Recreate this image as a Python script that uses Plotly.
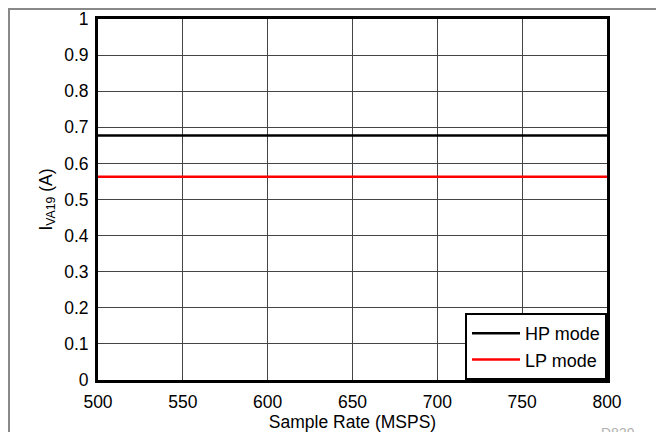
import plotly.graph_objects as go

sample_rate = [500, 800]
hp_mode = [0.677, 0.677]
lp_mode = [0.563, 0.563]
x_ticks = [500, 550, 600, 650, 700, 750, 800]
y_ticks = [0, 0.1, 0.2, 0.3, 0.4, 0.5, 0.6, 0.7, 0.8, 0.9, 1]
y_tick_text = ["0", "0.1", "0.2", "0.3", "0.4", "0.5", "0.6", "0.7", "0.8", "0.9", "1"]

fig = go.Figure()
fig.add_trace(go.Scatter(x=sample_rate, y=hp_mode, mode="lines", name="HP mode",
                         line=dict(color="black", width=2.5)))
fig.add_trace(go.Scatter(x=sample_rate, y=lp_mode, mode="lines", name="LP mode",
                         line=dict(color="#ff0000", width=2.5)))

# page body has an 8px margin; figure coords = screen coords - 8
OFF = 8
W, H = 664 - OFF, 432 - OFF
L, R, T, B = 98 - OFF, 57, 19 - OFF, 52
pw, ph = W - L - R, H - T - B

def px(x):
    return (x - OFF - L) / pw

def py(y):
    return (H - B - (y - OFF)) / ph

fig.update_layout(
    width=W, height=H,
    margin=dict(l=L, r=R, t=T, b=B, autoexpand=False),
    paper_bgcolor="white", plot_bgcolor="white",
    font=dict(family="Liberation Sans, Arial, sans-serif", size=17.5, color="black"),
    showlegend=True,
    legend=dict(x=1, y=0, xanchor="right", yanchor="bottom",
                bordercolor="black", borderwidth=2, bgcolor="white",
                font=dict(size=18), tracegroupgap=0, itemwidth=48),
    xaxis=dict(range=[500, 800], tickvals=x_ticks, showgrid=True, gridcolor="#444444",
               gridwidth=1, showline=True, linecolor="black", linewidth=3, mirror=True,
               ticks="", zeroline=False, tickfont=dict(size=17.5), automargin=False,
               ticklabelstandoff=4,
               title=dict(text="Sample Rate (MSPS)", font=dict(size=17.5), standoff=0)),
    yaxis=dict(range=[0, 1], tickvals=y_ticks, ticktext=y_tick_text, showgrid=True,
               gridcolor="#444444", gridwidth=1, showline=True, linecolor="black",
               linewidth=3, mirror=True, ticks="", zeroline=False, tickfont=dict(size=17.5),
               automargin=False, ticklabelstandoff=3,
               title=dict(text="I<sub>VA19</sub> (A)", font=dict(size=17.5), standoff=8)),
    shapes=[
        dict(type="line", xref="paper", yref="paper", x0=px(OFF), x1=px(664), y0=py(OFF + 1), y1=py(OFF + 1),
             line=dict(color="#888888", width=2)),
        dict(type="line", xref="paper", yref="paper", x0=px(OFF + 1), x1=px(OFF + 1), y0=py(OFF), y1=py(432),
             line=dict(color="#888888", width=2)),
    ],
    annotations=[
        dict(text="D839", xref="paper", yref="paper", x=px(637), y=py(433),
             showarrow=False, font=dict(size=14, color="#b0b0b0"), yanchor="middle"),
    ],
)

fig.write_html("out.html")
